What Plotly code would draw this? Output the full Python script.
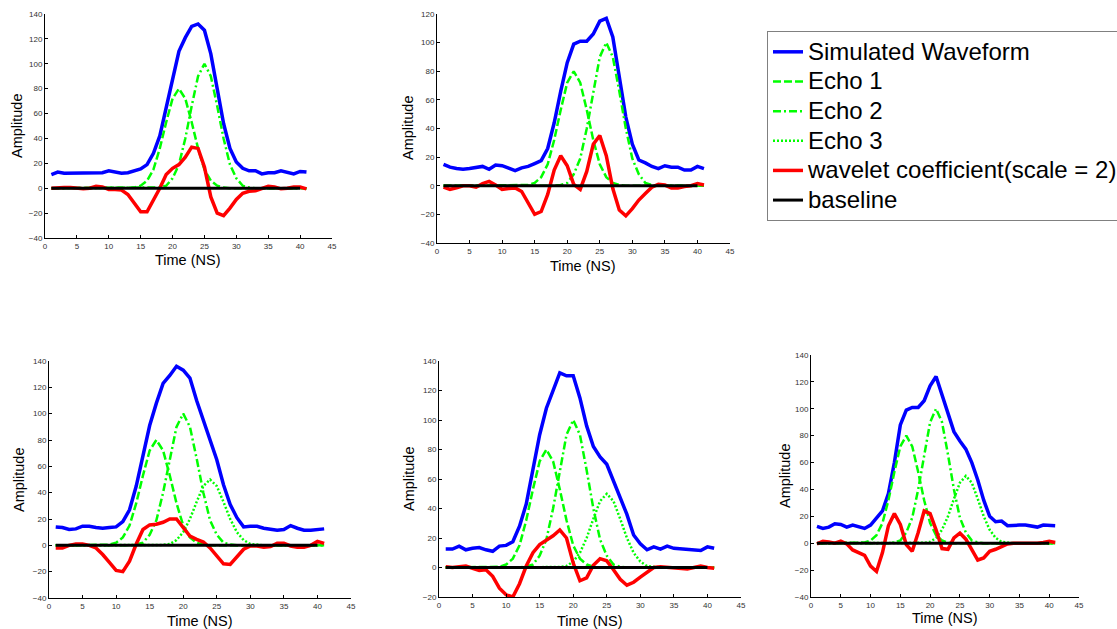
import plotly.graph_objects as go

W, H = 1117, 629

time_ns = list(range(1, 42))
baseline_x = [1, 40]
baseline_y = [0, 0]

# ---------- panel 1 (top left) ----------
p1_wave = [11, 13, 12, 12, 12.5, 12, 12.5, 12.5, 12.5, 14,
           13, 12, 12.5, 14, 15.5, 19, 28, 42, 65, 88,
           110, 121, 130, 132, 127, 108, 80, 52, 32, 21,
           16, 14, 14, 11.5, 12.5, 12.5, 14, 13, 11.5, 13.5, 13]
p1_echo1 = [0, 0, 0, 0, 0, 0, 0, 0, 0, 0, 0, 0, 0,
            0.5, 2, 6, 15, 32, 53, 72, 80, 72, 53, 32, 15, 6, 2, 0.5,
            0, 0, 0, 0, 0, 0, 0, 0, 0, 0, 0, 0, 0]
p1_echo2 = [0, 0, 0, 0, 0, 0, 0, 0, 0, 0, 0, 0, 0, 0, 0, 0, 0,
            0.6, 2, 8, 19, 40, 66, 90, 100, 90, 66, 40, 19, 8, 2, 0.6,
            0, 0, 0, 0, 0, 0, 0, 0, 0]
p1_coef = [0, 0.5, 0.5, 0.5, 0, -0.5, 0, 1.5, 1, -1,
           -1, -1.5, -5, -12, -19, -19, -10, 0, 11, 16,
           19, 25, 33, 32, 17, -7, -20, -22, -16, -9,
           -4, -2.5, -2, 0, 1.5, 1, -0.5, 0, 1, 1, -0.5]

# ---------- panel 2 (top middle) ----------
p2_wave = [15, 13, 12, 11.5, 12, 12.5, 13.5, 11.5, 14.5, 14,
           12, 10.5, 12.5, 13.5, 15.5, 17.5, 26, 44, 66, 86,
           99, 101, 101, 106, 115, 117, 104, 74, 48, 29,
           18, 16, 13.5, 12, 14, 13, 13, 11, 11, 13.5, 12]
p2_echo1 = [0, 0, 0, 0, 0, 0, 0, 0, 0, 0, 0, 0, 0,
            0.5, 2, 6, 15, 32, 53, 72, 80, 72, 53, 32, 15, 6, 2, 0.5,
            0, 0, 0, 0, 0, 0, 0, 0, 0, 0, 0, 0, 0]
p2_echo2 = [0, 0, 0, 0, 0, 0, 0, 0, 0, 0, 0, 0, 0, 0, 0, 0, 0, 0,
            0.6, 2, 8, 19, 40, 66, 90, 100, 90, 66, 40, 19, 8, 2, 0.6,
            0, 0, 0, 0, 0, 0, 0, 0]
p2_coef = [-1, -2.5, -1.5, 0, 0, -1, 1.5, 3, 0.5, -2.5,
           -2, -1.5, -4, -12, -20, -18, -6, 11, 21, 14,
           1, -2.5, 10, 29, 35, 21, -2, -17, -21, -16,
           -10, -5.5, -1, 1, 0.5, -1.5, -1.5, -0.5, 0, 1.5, 0.5]

# ---------- panel 3 (bottom left) ----------
p3_wave = [14, 13.5, 12, 12.5, 14.5, 14.5, 13.5, 13, 13.5, 14,
           18, 27, 45, 68, 91, 108, 123, 129, 136, 133,
           127, 110, 95, 80, 65, 46, 31, 21, 14, 14.5,
           14.5, 13, 12, 11.5, 12, 15, 13, 11.5, 11.5, 12, 12.5]
p3_echo1 = [0, 0, 0, 0, 0, 0, 0, 0,
            0.5, 2, 6, 15, 32, 53, 72, 80, 72, 53, 32, 15, 6, 2, 0.5,
            0, 0, 0, 0, 0, 0, 0, 0, 0, 0, 0, 0, 0, 0, 0, 0, 0, 0]
p3_echo2 = [0, 0, 0, 0, 0, 0, 0, 0, 0, 0, 0, 0,
            0.6, 2, 8, 19, 40, 66, 90, 100, 90, 66, 40, 19, 8, 2, 0.6,
            0, 0, 0, 0, 0, 0, 0, 0, 0, 0, 0, 0, 0, 0]
p3_echo3 = [0, 0, 0, 0, 0, 0, 0, 0, 0, 0, 0, 0, 0, 0, 0, 0,
            0.3, 1, 4, 10, 20, 33, 45, 50, 45, 33, 20, 10, 4, 1, 0.3,
            0, 0, 0, 0, 0, 0, 0, 0, 0, 0]
p3_coef = [-2, -2, 0, 1, 1, 0, -2, -7, -13, -19,
           -20, -12, 1, 12, 15.5, 16, 17.5, 20, 20, 14,
           7, 4.5, 2.5, -2, -8, -14, -14.5, -9, -3, -0.5,
           -0.5, -1.5, -1, 1.5, 1.5, -0.5, -1.5, -1.5, 0, 3, 1.5]

# ---------- panel 4 (bottom middle) ----------
p4_wave = [12.5, 12.5, 14.5, 12, 13, 13.5, 12, 11, 14.5, 15,
           17.5, 28, 43, 66, 90, 108, 120, 132, 130, 130,
           115, 96, 82, 75, 70, 59, 48, 36, 22, 16,
           12, 14, 12.5, 14.5, 13, 12.5, 12.5, 12, 11.5, 14, 13]
p4_echo1 = [0, 0, 0, 0, 0, 0, 0, 0,
            0.5, 2, 6, 15, 32, 53, 72, 80, 72, 53, 32, 15, 6, 2, 0.5,
            0, 0, 0, 0, 0, 0, 0, 0, 0, 0, 0, 0, 0, 0, 0, 0, 0, 0]
p4_echo2 = [0, 0, 0, 0, 0, 0, 0, 0, 0, 0, 0, 0,
            0.6, 2, 8, 19, 40, 66, 90, 100, 90, 66, 40, 19, 8, 2, 0.6,
            0, 0, 0, 0, 0, 0, 0, 0, 0, 0, 0, 0, 0, 0]
p4_echo3 = [0, 0, 0, 0, 0, 0, 0, 0, 0, 0, 0, 0, 0, 0, 0, 0, 0,
            0.3, 1, 4, 10, 20, 33, 45, 50, 45, 33, 20, 10, 4, 1, 0.3,
            0, 0, 0, 0, 0, 0, 0, 0, 0]
p4_coef = [0.5, 0, 0.5, 1, -0.5, -2, -1.5, -6, -14, -18.5,
           -20, -11, 1, 10, 15.5, 18.5, 21.5, 25.5, 20, 3,
           -9, -7, 1.5, 6, 4.5, -1.5, -8, -12, -10, -6.5,
           -3, 0, 0.5, 0, 0, -0.5, -1, 0, 1, 0, -0.5]

# ---------- panel 5 (bottom right) ----------
p5_wave = [12.5, 11, 12, 14.5, 14, 12, 13.5, 12, 11, 13.5,
           19, 24, 37, 60, 88, 99, 101, 101, 106, 117,
           124, 110, 95, 83, 76, 70, 60, 47, 32, 20,
           16, 16.5, 13, 13.5, 13.5, 13.5, 13, 12, 13.5, 13, 13]
p5_echo1 = [0, 0, 0, 0, 0, 0, 0, 0,
            0.5, 2, 6, 15, 32, 53, 72, 80, 72, 53, 32, 15, 6, 2, 0.5,
            0, 0, 0, 0, 0, 0, 0, 0, 0, 0, 0, 0, 0, 0, 0, 0, 0, 0]
p5_echo2 = [0, 0, 0, 0, 0, 0, 0, 0, 0, 0, 0, 0, 0,
            0.6, 2, 8, 19, 40, 66, 90, 100, 90, 66, 40, 19, 8, 2, 0.6,
            0, 0, 0, 0, 0, 0, 0, 0, 0, 0, 0, 0, 0]
p5_echo3 = [0, 0, 0, 0, 0, 0, 0, 0, 0, 0, 0, 0, 0, 0, 0, 0, 0, 0,
            0.3, 1, 4, 10, 20, 33, 45, 50, 45, 33, 20, 10, 4, 1, 0.3,
            0, 0, 0, 0, 0, 0, 0, 0]
p5_coef = [-0.5, 1.5, 1, 0, 1.5, -0.5, -5, -7, -9, -17,
           -21, -7, 13, 22, 14, -1, -6, 8, 24, 22,
           10, -4, -4.5, 4, 7.5, 3, -5, -12.5, -11, -6,
           -4.5, -2.5, -0.5, 0, 0, -0.5, -0.5, 0, 0.5, 1.5, 0.5]

y_ranges = [[-40, 140], [-40, 120], [-40, 140], [-20, 140], [-40, 140]]
x_range = [0, 45]

panels = [
    dict(wave=p1_wave, echoes=[p1_echo1, p1_echo2, None], coef=p1_coef),
    dict(wave=p2_wave, echoes=[p2_echo1, p2_echo2, None], coef=p2_coef),
    dict(wave=p3_wave, echoes=[p3_echo1, p3_echo2, p3_echo3], coef=p3_coef),
    dict(wave=p4_wave, echoes=[p4_echo1, p4_echo2, p4_echo3], coef=p4_coef),
    dict(wave=p5_wave, echoes=[p5_echo1, p5_echo2, p5_echo3], coef=p5_coef),
]

# plot areas in pixels: (left, right, top, bottom)
boxes = [
    (45, 332, 14, 238),
    (437, 730, 14, 243),
    (49, 351, 361, 598),
    (439, 741, 361, 597),
    (811, 1079, 355, 597),
]

echo_names = ["Echo 1", "Echo 2", "Echo 3"]
echo_dash = ["8px,3px", "8px,3px,2px,3px", "2px,2px"]
GREEN = "#00ff00"
LEG_TXT = "<span style='font-size:24px'>%s</span>"

fig = go.Figure()
layout_axes = {}
annotations = []
FONT = "Liberation Sans, Arial, sans-serif"

for i, (p, box) in enumerate(zip(panels, boxes)):
    n = i + 1
    xa = "x" if n == 1 else f"x{n}"
    ya = "y" if n == 1 else f"y{n}"
    show = (n == 5)
    fig.add_trace(go.Scatter(x=time_ns, y=p["wave"], mode="lines",
                             name=LEG_TXT % "Simulated Waveform",
                             line=dict(color="#0000ff", width=3.5), xaxis=xa, yaxis=ya,
                             showlegend=show, legendrank=1))
    for k, e in enumerate(p["echoes"]):
        if e is None:
            continue
        fig.add_trace(go.Scatter(x=time_ns, y=e, mode="lines", name=LEG_TXT % echo_names[k],
                                 line=dict(color=GREEN, width=2.5, dash=echo_dash[k]),
                                 xaxis=xa, yaxis=ya, showlegend=show, legendrank=2 + k))
    fig.add_trace(go.Scatter(x=time_ns, y=p["coef"], mode="lines",
                             name=LEG_TXT % "wavelet coefficient(scale = 2)",
                             line=dict(color="#ff0000", width=3.5), xaxis=xa, yaxis=ya,
                             showlegend=show, legendrank=5))
    fig.add_trace(go.Scatter(x=baseline_x, y=baseline_y, mode="lines",
                             name=LEG_TXT % "baseline",
                             line=dict(color="#000000", width=3), xaxis=xa, yaxis=ya,
                             showlegend=show, legendrank=6))

    l, r, t, b = box
    common = dict(showgrid=False, zeroline=False, showline=True, linecolor="#000000",
                  linewidth=1, ticks="inside", ticklen=3, tickcolor="#000000",
                  tickfont=dict(size=8, color="#333333", family=FONT), mirror=False)
    layout_axes["xaxis" if n == 1 else f"xaxis{n}"] = dict(
        domain=[l / W, r / W], range=x_range, dtick=5, tick0=0,
        anchor=ya, **common)
    yr = y_ranges[i]
    layout_axes["yaxis" if n == 1 else f"yaxis{n}"] = dict(
        domain=[1 - b / H, 1 - t / H], range=yr, dtick=20, tick0=0,
        anchor=xa, **common)

# axis titles (pixel centres)
xtitle_pos = [(188, 260), (583, 266), (200, 621), (590, 621), (945, 618)]
ytitle_pos = [(17, 126), (408, 128), (19, 480), (409, 479), (785, 476)]
for (xc, yc) in xtitle_pos:
    annotations.append(dict(text="Time (NS)", x=xc / W, y=1 - yc / H, xref="paper", yref="paper",
                            xanchor="center", yanchor="middle", showarrow=False,
                            font=dict(size=14.5, color="#000000", family=FONT)))
for (xc, yc) in ytitle_pos:
    annotations.append(dict(text="Amplitude", x=xc / W, y=1 - yc / H, xref="paper", yref="paper",
                            xanchor="center", yanchor="middle", showarrow=False, textangle=-90,
                            font=dict(size=14.5, color="#000000", family=FONT)))

fig.update_layout(
    width=W, height=H,
    margin=dict(l=0, r=0, t=0, b=0, autoexpand=False),
    paper_bgcolor="#ffffff", plot_bgcolor="#ffffff",
    font=dict(family=FONT),
    annotations=annotations,
    legend=dict(x=767 / W, y=1 - 31 / H, xanchor="left", yanchor="top",
                bgcolor="#ffffff", bordercolor="#808080", borderwidth=1,
                font=dict(size=20.5, color="#000000", family=FONT),
                tracegroupgap=0, itemwidth=30, traceorder="normal"),
    **layout_axes,
)

fig.write_html("out.html")
